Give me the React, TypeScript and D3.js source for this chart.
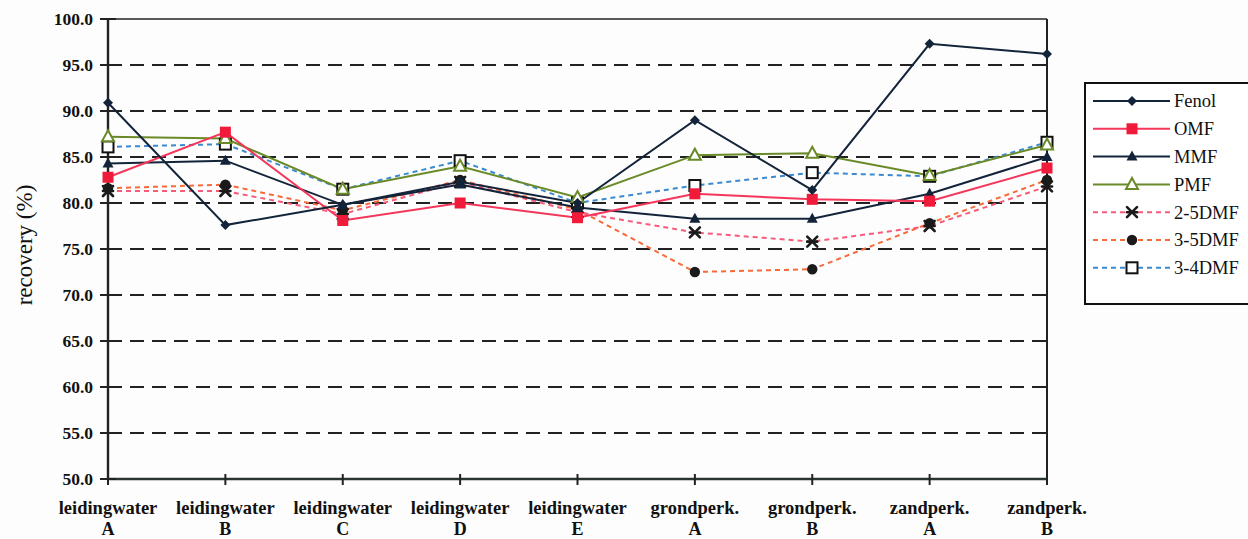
import React from "react";
import * as d3 from "d3";

const categories = [
  ["leidingwater", "A"],
  ["leidingwater", "B"],
  ["leidingwater", "C"],
  ["leidingwater", "D"],
  ["leidingwater", "E"],
  ["grondperk.", "A"],
  ["grondperk.", "B"],
  ["zandperk.", "A"],
  ["zandperk.", "B"],
];

const fenol = [90.9, 77.6, 79.8, 82.3, 80.0, 89.0, 81.4, 97.3, 96.2];
const omf = [82.8, 87.7, 78.1, 80.0, 78.4, 81.0, 80.4, 80.2, 83.8];
const mmf = [84.3, 84.6, 79.8, 82.0, 79.5, 78.3, 78.3, 81.0, 85.0];
const pmf = [87.2, 87.0, 81.5, 84.0, 80.6, 85.2, 85.4, 83.0, 86.3];
const dmf25 = [81.3, 81.3, 78.8, 82.3, 79.0, 76.8, 75.8, 77.5, 81.8];
const dmf35 = [81.6, 82.0, 79.2, 82.5, 79.3, 72.5, 72.8, 77.8, 82.5];
const dmf34 = [86.1, 86.4, 81.5, 84.6, 80.0, 81.9, 83.3, 82.9, 86.6];

const yTicks = [50, 55, 60, 65, 70, 75, 80, 85, 90, 95, 100];

type Series = {
  name: string;
  values: number[];
  color: string;
  dash: string | null;
  marker: "diamond" | "square" | "triangle" | "triOpen" | "star" | "circle" | "sqOpen";
};

const series: Series[] = [
  { name: "Fenol", values: fenol, color: "#13243a", dash: null, marker: "diamond" },
  { name: "OMF", values: omf, color: "#f5365a", dash: null, marker: "square" },
  { name: "MMF", values: mmf, color: "#13243a", dash: null, marker: "triangle" },
  { name: "PMF", values: pmf, color: "#6a8a28", dash: null, marker: "triOpen" },
  { name: "2-5DMF", values: dmf25, color: "#f75b7a", dash: "5,4", marker: "star" },
  { name: "3-5DMF", values: dmf35, color: "#f86a3a", dash: "5,4", marker: "circle" },
  { name: "3-4DMF", values: dmf34, color: "#3b8ad0", dash: "5,4", marker: "sqOpen" },
];

const W = 1248;
const H = 539;
const left = 108;
const right = 1047;
const top = 19;
const bottom = 479;

function Marker({ type, x, y, color }: { type: Series["marker"]; x: number; y: number; color: string }) {
  switch (type) {
    case "diamond":
      return <path d={`M${x},${y - 5}L${x + 5},${y}L${x},${y + 5}L${x - 5},${y}Z`} fill="#13243a" />;
    case "square":
      return <rect x={x - 5.5} y={y - 5.5} width={11} height={11} fill="#f01b3a" />;
    case "triangle":
      return <path d={`M${x},${y - 6}L${x + 5.5},${y + 4}L${x - 5.5},${y + 4}Z`} fill="#13243a" />;
    case "triOpen":
      return (
        <path d={`M${x},${y - 6.5}L${x + 6},${y + 4.5}L${x - 6},${y + 4.5}Z`} fill="#fff" stroke={color} strokeWidth={2} />
      );
    case "star":
      return (
        <g stroke="#1a1a1a" strokeWidth={2.6} strokeLinecap="round">
          <line x1={x - 5} y1={y - 5} x2={x + 5} y2={y + 5} />
          <line x1={x - 5} y1={y + 5} x2={x + 5} y2={y - 5} />
          <line x1={x - 5} y1={y} x2={x + 5} y2={y} />
        </g>
      );
    case "circle":
      return <circle cx={x} cy={y} r={5.2} fill="#1a1a1a" />;
    case "sqOpen":
      return <rect x={x - 5.5} y={y - 5.5} width={11} height={11} fill="#fff" stroke="#111" strokeWidth={2} />;
  }
  return null;
}

export default function App() {
  const x = d3
    .scalePoint<number>()
    .domain(d3.range(categories.length))
    .range([left, right]);
  const y = d3.scaleLinear().domain([50, 100]).range([bottom, top]);
  const line = (vals: number[]) =>
    d3
      .line<number>()
      .x((_, i) => x(i) as number)
      .y((v) => y(v))(vals) as string;

  const font = '"Liberation Serif", "DejaVu Serif", serif';
  const legX = 1085;
  const legY = 83;
  const legStep = 27.8;

  return (
    <svg
      width={W}
      height={H}
      style={{ position: "absolute", left: 0, top: 0, background: "#fff", fontFamily: font }}
    >
      <rect x={0} y={0} width={W} height={H} fill="#fdfdfd" />
      {/* gridlines */}
      {yTicks
        .filter((t) => t !== 50 && t !== 100)
        .map((t) => (
          <line
            key={t}
            x1={left}
            x2={right}
            y1={y(t)}
            y2={y(t)}
            stroke="#222"
            strokeWidth={2.2}
            strokeDasharray="14,8"
          />
        ))}
      {/* frame */}
      <line x1={left} x2={right} y1={top} y2={top} stroke="#222" strokeWidth={1.5} />
      <line x1={right} x2={right} y1={top} y2={bottom} stroke="#222" strokeWidth={2} />
      <line x1={left} x2={left} y1={top} y2={bottom} stroke="#222" strokeWidth={2.4} />
      <line x1={left} x2={right} y1={bottom} y2={bottom} stroke="#2a3530" strokeWidth={2.4} />
      {/* y ticks */}
      {yTicks.map((t) => (
        <g key={t}>
          <line x1={left - 8} x2={left + 8} y1={y(t)} y2={y(t)} stroke="#222" strokeWidth={2} />
          <text
            x={93}
            y={y(t)}
            dy="0.36em"
            textAnchor="end"
            fontSize={17.5}
            fontWeight="bold"
            fill="#111"
            style={{ fontFamily: font }}
          >
            {t.toFixed(1)}
          </text>
        </g>
      ))}
      {/* x ticks */}
      {categories.map((c, i) => (
        <g key={i}>
          <line x1={x(i)} x2={x(i)} y1={bottom - 5} y2={bottom + 6} stroke="#222" strokeWidth={2} />
          <text x={x(i)} y={514} textAnchor="middle" fontSize={18.5} fontWeight="bold" fill="#111" style={{ fontFamily: font }}>
            {c[0]}
          </text>
          <text x={x(i)} y={535} textAnchor="middle" fontSize={18} fontWeight="bold" fill="#111" style={{ fontFamily: font }}>
            {c[1]}
          </text>
        </g>
      ))}
      {/* y label */}
      <text
        transform={`translate(32,245) rotate(-90)`}
        textAnchor="middle"
        fontSize={23}
        fill="#111"
        style={{ fontFamily: font }}
      >
        recovery (%)
      </text>
      {/* series lines */}
      {series
        .slice()
        .reverse()
        .map((s) => (
          <path
            key={s.name}
            d={line(s.values)}
            fill="none"
            stroke={s.color}
            strokeWidth={2}
            strokeDasharray={s.dash ?? undefined}
          />
        ))}
      {series
        .slice()
        .reverse()
        .map((s) => (
          <g key={s.name + "m"}>
            {s.values.map((v, i) => (
              <Marker key={i} type={s.marker} x={x(i) as number} y={y(v)} color={s.color} />
            ))}
          </g>
        ))}
      {/* legend */}
      <rect x={legX} y={legY} width={170} height={221} fill="#fff" stroke="#111" strokeWidth={2} />
      {series.map((s, i) => {
        const ly = legY + 18 + i * legStep;
        return (
          <g key={s.name}>
            <line
              x1={legX + 8}
              x2={legX + 85}
              y1={ly}
              y2={ly}
              stroke={s.color}
              strokeWidth={2}
              strokeDasharray={s.dash ?? undefined}
            />
            <Marker type={s.marker} x={legX + 47} y={ly} color={s.color} />
            <text x={legX + 89} y={ly} dy="0.35em" fontSize={18.5} fill="#111" style={{ fontFamily: font }}>
              {s.name}
            </text>
          </g>
        );
      })}
    </svg>
  );
}
